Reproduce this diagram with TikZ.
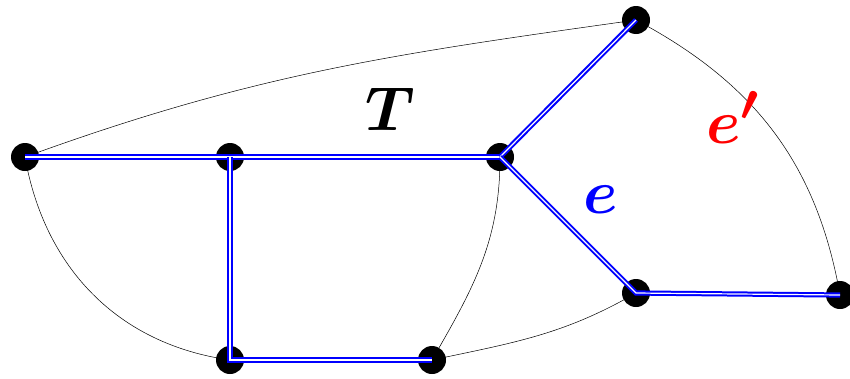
\documentclass[tikz,border=0pt]{standalone}
\usepackage{amsmath}
\usepackage{bm}
\usetikzlibrary{positioning}

\begin{document}
\begin{tikzpicture}[x=1pt, y=-1pt,
		vertex/.style={circle, fill=black, inner sep=0pt, minimum size=28pt},
		treeedge/.style={draw=blue, line width=2pt, double=white, double distance=1.2pt},
		plain/.style={black, line width=0.5pt},
		biglabel/.style={font=\Huge, scale=2.5, inner sep=0pt}]
		\useasboundingbox (0,0) rectangle (850,378);
		
		\node[vertex] (v1) at (25,157) {};
		\node[vertex] (v2) at (230,157) {};
		\node[vertex] (v3) at (500,157) {};
		\node[vertex] (v4) at (636,20) {};
		\node[vertex] (v5) at (636,293) {};
		\node[vertex] (v6) at (840,295) {};
		\node[vertex] (v7) at (230,360) {};
		\node[vertex] (v8) at (432,360) {};
		
		% non-tree edges
		\draw[plain] (v1.center) to[out=20, in=188] (v4.center);
		\draw[plain] (v1.center) to[out=-80, in=172] (v7.center);
		\draw[plain] (v3.center) to[out=-90, in=60] (v8.center);
		\draw[plain] (v8.center) to[out=12, in=-150] (v5.center);
		\draw[plain] (v4.center) to[out=-28, in=100] (v6.center);
		
		% spanning tree T
		\draw[treeedge] (v1.center) -- (v3.center);
		\draw[treeedge] (v2.center) -- (v7.center) -- (v8.center);
		\draw[treeedge] (v3.center) -- (v4.center);
		\draw[treeedge] (v3.center) -- (v5.center) -- (v6.center);
		
		\node[biglabel, anchor=base] (T) at (390,130) {$\bm{T}$};
		\node[biglabel, blue, anchor=base] (e) at (601,213) {$\bm{e}$};
		\node[biglabel, red, anchor=base west] (ep) at (706,143) {$\bm{e'}$};
	\end{tikzpicture}
\end{document}
